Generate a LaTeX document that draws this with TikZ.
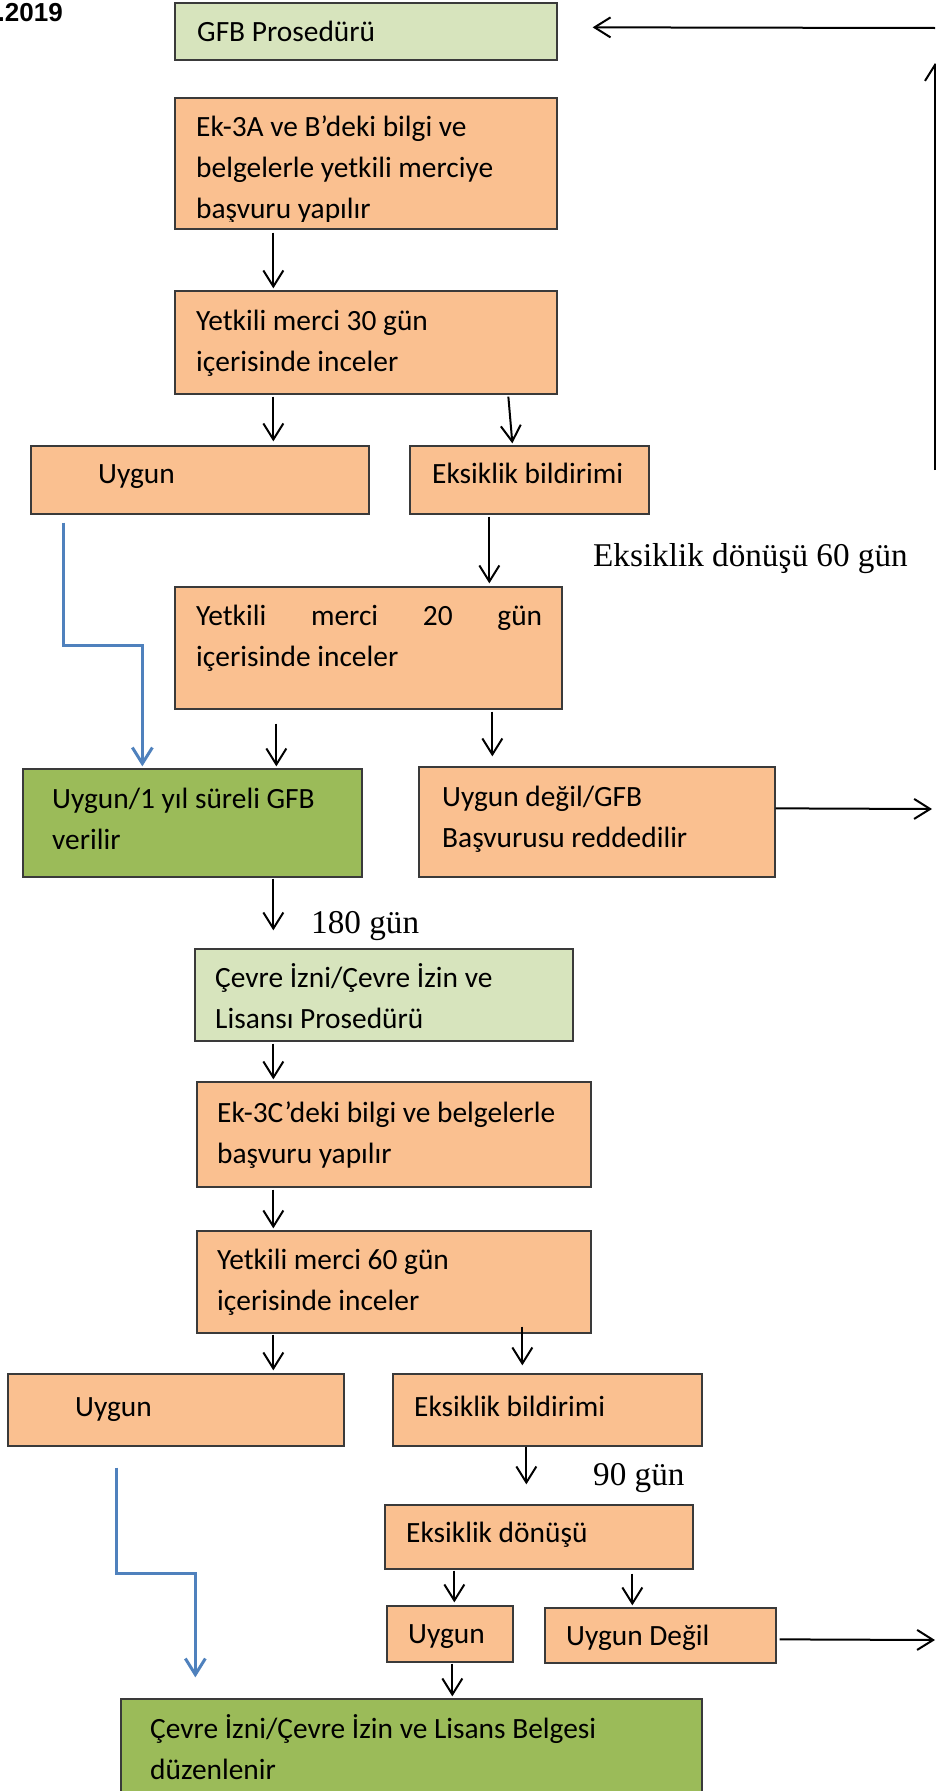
\documentclass[tikz,border=0pt]{standalone}
\usepackage{fontspec}
\usetikzlibrary{arrows.meta,fit}
\newfontfamily\carl{Carlito}
\newfontfamily\tnr{Liberation Serif}
\newfontfamily\arb{Liberation Sans}
\definecolor{orf}{HTML}{FAC090}
\definecolor{lgr}{HTML}{D7E4BD}
\definecolor{grn}{HTML}{9BBB59}
\definecolor{blu}{HTML}{4F81BD}
\definecolor{brd}{HTML}{3A3A3A}
\tikzset{
  bx/.style={draw=brd, line width=1.3pt, inner sep=0pt, rectangle},
  ob/.style={bx, fill=orf},
  lb/.style={bx, fill=lgr},
  gb/.style={bx, fill=grn},
  tx/.style={inner sep=0pt, anchor=base west, align=left, font=\carl\fontsize{29.4}{41}\selectfont},
  sx/.style={inner sep=0pt, anchor=base west, font=\tnr\fontsize{33.2}{38}\selectfont},
  arr/.style={draw=black, line width=2pt, -{Straight Barb[length=16pt,width=20pt]}},
  barr/.style={draw=blu, line width=3pt, -{Straight Barb[length=16pt,width=20pt]}},
}
\begin{document}
\begin{tikzpicture}[x=1pt,y=-1pt]
\useasboundingbox (0,0) rectangle (936,1791);

% boxes
\node[lb, fit={(175,3) (557,60)}] (gfb) {};
\node[ob, fit={(175,98) (557,229)}] (b2) {};
\node[ob, fit={(175,291) (557,394)}] (b3) {};
\node[ob, fit={(31,446) (369,514)}] (uyg1) {};
\node[ob, fit={(410,446) (649,514)}] (eks1) {};
\node[ob, fit={(175,587) (562,709)}] (b20) {};
\node[gb, fit={(23,769) (362,877)}] (gfbok) {};
\node[ob, fit={(419,767) (775,877)}] (red) {};
\node[lb, fit={(195,949) (573,1041)}] (cev) {};
\node[ob, fit={(197,1082) (591,1187)}] (ek3c) {};
\node[ob, fit={(197,1231) (591,1333)}] (y60) {};
\node[ob, fit={(8,1374) (344,1446)}] (uyg2) {};
\node[ob, fit={(393,1374) (702,1446)}] (eks2) {};
\node[ob, fit={(385,1505) (693,1569)}] (edon) {};
\node[ob, fit={(387,1606) (513,1662)}] (uyg3) {};
\node[ob, fit={(545,1608) (776,1663)}] (ud) {};
\node[gb, fit={(121,1699) (702,1800)}] (fin) {};

% texts (multi-line nodes: base = last line)
\node[inner sep=0pt, anchor=base east, font=\arb\bfseries\fontsize{26}{30}\selectfont] (date) at (63,21) {.2019};
\node[tx] (t-gfb) at (197,41) {GFB Prosedürü};
\begin{scope}
\clip (175,98) rectangle (557,221);
\node[tx] (t-b2) at (196,218) {Ek-3A ve B’deki bilgi ve\\belgelerle yetkili merciye\\başvuru yapılır};
\end{scope}
\node[tx] (t-b3) at (196,371) {Yetkili merci 30 gün\\içerisinde inceler};
\node[tx] (t-uyg1) at (98,483) {Uygun};
\node[tx] (t-eks1) at (432,483) {Eksiklik bildirimi};
\node[sx] (l60) at (593,566) {Eksiklik dönüşü 60 gün};
\node[tx] (t-b20) at (196,666) {\makebox[346pt][s]{Yetkili merci 20 gün}\\içerisinde inceler};
\node[tx] (t-gfbok) at (52,849) {Uygun/1 yıl süreli GFB\\verilir};
\node[tx] (t-red) at (442,847) {Uygun değil/GFB\\Başvurusu reddedilir};
\node[sx] (l180) at (311,933) {180 gün};
\node[tx] (t-cev) at (215,1028) {Çevre İzni/Çevre İzin ve\\Lisansı Prosedürü};
\node[tx] (t-ek3c) at (217,1163) {Ek-3C’deki bilgi ve belgelerle\\başvuru yapılır};
\node[tx] (t-y60) at (217,1310) {Yetkili merci 60 gün\\içerisinde inceler};
\node[tx] (t-uyg2) at (75,1416) {Uygun};
\node[tx] (t-eks2) at (414,1416) {Eksiklik bildirimi};
\node[sx] (l90) at (593,1485) {90 gün};
\node[tx] (t-edon) at (406,1542) {Eksiklik dönüşü};
\node[tx] (t-uyg3) at (408,1643) {Uygun};
\node[tx] (t-ud) at (566,1645) {Uygun Değil};
\node[tx] (t-fin) at (150,1779) {Çevre İzni/Çevre İzin ve Lisans Belgesi\\düzenlenir};

% free ends
\coordinate (rv0) at (935,470);
\coordinate (rv1) at (935,63);
\coordinate (rh0) at (935,28);
\coordinate (r1) at (932,809);
\coordinate (r2) at (935,1640);

% connectors
\draw[arr] (rv0) -- (rv1);
\draw[arr] (rh0) -- ([shift={(35,25)}]gfb.north east);
\draw[arr] ([shift={(99,3)}]b2.south west) -- ([shift={(99,-2)}]b3.north west);
\draw[arr] ([shift={(99,2)}]b3.south west) -- ([shift={(243,-4)}]uyg1.north west);
\draw[arr] ([shift={(334,2)}]b3.south west) -- ([shift={(103,-2)}]eks1.north west);
\draw[arr] ([shift={(80,2)}]eks1.south west) -- ([shift={(315,-3)}]b20.north west);
\draw[arr] ([shift={(102,14)}]b20.south west) -- ([shift={(254,-2)}]gfbok.north west);
\draw[arr] ([shift={(318,2)}]b20.south west) -- ([shift={(74,-10)}]red.north west);
\draw[barr] ([shift={(33,8)}]uyg1.south west) -- ++(0,123) -| ([shift={(120,-2)}]gfbok.north west);
\draw[arr] ([shift={(0,42)}]red.north east) -- (r1);
\draw[arr] ([shift={(251,1)}]gfbok.south west) -- ([shift={(79,-18)}]cev.north west);
\draw[arr] ([shift={(79,2)}]cev.south west) -- ([shift={(77,-2)}]ek3c.north west);
\draw[arr] ([shift={(77,2)}]ek3c.south west) -- ([shift={(77,-2)}]y60.north west);
\draw[arr] ([shift={(77,1)}]y60.south west) -- ([shift={(266,-3)}]uyg2.north west);
\draw[arr] ([shift={(326,-7)}]y60.south west) -- ([shift={(130,-8)}]eks2.north west);
\draw[arr] ([shift={(134,0)}]eks2.south west) -- ([shift={(142,-20)}]edon.north west);
\draw[arr] ([shift={(70,1)}]edon.south west) -- ([shift={(68,-3)}]uyg3.north west);
\draw[arr] ([shift={(248,4)}]edon.south west) -- ([shift={(88,-2)}]ud.north west);
\draw[arr] ([shift={(3,32)}]ud.north east) -- (r2);
\draw[arr] ([shift={(66,1)}]uyg3.south west) -- ([shift={(332,-2)}]fin.north west);
\draw[barr] ([shift={(109,21)}]uyg2.south west) -- ++(0,106) -| ([shift={(75,-21)}]fin.north west);
\end{tikzpicture}
\end{document}
